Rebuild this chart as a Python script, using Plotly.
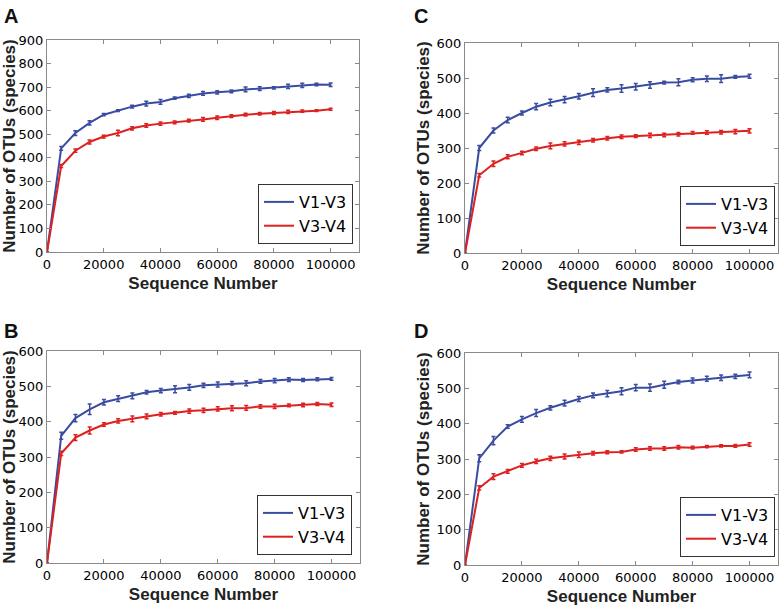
import plotly.graph_objects as go

# rarefaction curves, sampled every 5000 sequences
seq = [0, 5000, 10000, 15000, 20000, 25000, 30000, 35000, 40000, 45000, 50000,
       55000, 60000, 65000, 70000, 75000, 80000, 85000, 90000, 95000, 100000]

# panel A
a_v13 = [0, 440, 505, 548, 583, 600, 617, 630, 637, 653, 663, 673, 678, 682, 690, 694, 697, 703, 707, 711, 710]
a_v13_err = [0, 8, 10, 9, 5, 4, 6, 10, 10, 5, 7, 8, 7, 6, 10, 8, 5, 9, 9, 5, 7]
a_v34 = [0, 365, 430, 467, 490, 505, 525, 537, 545, 550, 558, 563, 570, 577, 583, 587, 590, 595, 598, 600, 606]
a_v34_err = [0, 6, 7, 9, 6, 12, 7, 7, 7, 6, 6, 8, 7, 6, 6, 5, 6, 7, 5, 4, 4]

# panel B
b_v13 = [0, 360, 410, 435, 455, 465, 473, 483, 488, 492, 497, 503, 505, 509, 509, 514, 516, 519, 518, 520, 521]
b_v13_err = [0, 10, 10, 15, 8, 8, 8, 5, 6, 10, 8, 6, 7, 5, 7, 5, 6, 5, 4, 4, 4]
b_v34 = [0, 310, 355, 375, 392, 402, 408, 415, 421, 425, 430, 432, 436, 438, 439, 443, 443, 446, 447, 450, 448]
b_v34_err = [0, 6, 8, 10, 5, 6, 8, 7, 5, 4, 6, 6, 6, 7, 7, 5, 6, 4, 5, 4, 5]

# panel C
c_v13 = [0, 300, 350, 380, 400, 418, 430, 438, 448, 458, 466, 470, 475, 480, 487, 488, 495, 498, 498, 503, 505]
c_v13_err = [0, 7, 7, 8, 6, 9, 9, 9, 8, 11, 6, 11, 9, 9, 4, 10, 6, 8, 11, 4, 6]
c_v34 = [0, 222, 255, 275, 286, 298, 306, 312, 316, 322, 328, 332, 334, 336, 337, 339, 343, 344, 345, 347, 349]
c_v34_err = [0, 5, 8, 6, 5, 5, 8, 6, 6, 5, 5, 5, 4, 6, 5, 5, 4, 5, 5, 6, 6]

# panel D
d_v13 = [0, 302, 352, 392, 412, 430, 445, 458, 470, 480, 485, 492, 502, 502, 510, 518, 522, 527, 530, 534, 538]
d_v13_err = [0, 10, 12, 5, 8, 10, 6, 8, 7, 7, 9, 10, 9, 10, 10, 5, 7, 7, 8, 6, 8]
d_v34 = [0, 218, 250, 265, 282, 293, 302, 307, 312, 316, 319, 320, 327, 330, 330, 333, 332, 335, 337, 337, 341]
d_v34_err = [0, 6, 8, 5, 5, 6, 6, 7, 8, 5, 4, 3, 5, 5, 5, 5, 4, 3, 3, 4, 5]

series_names = ["V1-V3", "V3-V4"]
panel_letters = ["A", "C", "B", "D"]
x_ticks = [0, 20000, 40000, 60000, 80000, 100000]

BLUE = "#3a4ca0"
RED = "#dd2020"

panels = [
    dict(v13=a_v13, e13=a_v13_err, v34=a_v34, e34=a_v34_err, ymax=900,
         xd=[47/779, 359/779], yd=[1-252/607, 1-40/607],
         leg=(353/779, 1-244/607), lab=(2/779, 1-3/607)),
    dict(v13=c_v13, e13=c_v13_err, v34=c_v34, e34=c_v34_err, ymax=600,
         xd=[465/779, 778/779], yd=[1-253/607, 1-43/607],
         leg=(775/779, 1-246/607), lab=(412/779, 1-3/607)),
    dict(v13=b_v13, e13=b_v13_err, v34=b_v34, e34=b_v34_err, ymax=600,
         xd=[47/779, 360/779], yd=[1-563/607, 1-351/607],
         leg=(352/779, 1-555/607), lab=(2/779, 1-318/607)),
    dict(v13=d_v13, e13=d_v13_err, v34=d_v34, e34=d_v34_err, ymax=600,
         xd=[465/779, 778/779], yd=[1-565/607, 1-353/607],
         leg=(775/779, 1-557/607), lab=(412/779, 1-318/607)),
]

fig = go.Figure()
layout = {}
annotations = []

for i, p in enumerate(panels):
    n = i + 1
    sfx = "" if n == 1 else str(n)
    leg = "legend" if n == 1 else f"legend{n}"
    for name, ys, errs, col in [(series_names[0], p["v13"], p["e13"], BLUE),
                                (series_names[1], p["v34"], p["e34"], RED)]:
        fig.add_trace(go.Scatter(
            x=seq, y=ys, name=name, mode="lines",
            line=dict(color=col, width=2),
            error_y=dict(type="data", array=errs, color=col, thickness=1.5, width=2),
            xaxis=f"x{sfx}", yaxis=f"y{sfx}", legend=leg,
        ))

    axis_common = dict(
        showline=True, linecolor="#8a8a8a", linewidth=1, mirror="ticks",
        ticks="inside", ticklen=4, tickcolor="#8a8a8a",
        showgrid=False, zeroline=False, automargin=False,
        tickfont=dict(family="DejaVu Sans", size=13, color="black"),
    )
    layout[f"xaxis{sfx}"] = dict(
        axis_common, domain=p["xd"], anchor=f"y{sfx}", range=[0, 110000],
        tickvals=x_ticks, tickformat="d",
        title=dict(text="<b>Sequence Number</b>", standoff=6,
                   font=dict(family="Liberation Sans", size=17, color="#222")),
    )
    layout[f"yaxis{sfx}"] = dict(
        axis_common, domain=p["yd"], anchor=f"x{sfx}", range=[0, p["ymax"]],
        dtick=100,
        title=dict(text="<b>Number of OTUs (species)</b>", standoff=2,
                   font=dict(family="Liberation Sans", size=17, color="#222")),
    )
    layout[leg] = dict(
        x=p["leg"][0], y=p["leg"][1], xanchor="right", yanchor="bottom",
        xref="paper", yref="paper",
        bordercolor="#333", borderwidth=1, bgcolor="white",
        font=dict(family="DejaVu Sans", size=16, color="black"),
        tracegroupgap=0, itemwidth=30,
    )
    annotations.append(dict(
        text=f"<b>{panel_letters[i]}</b>", x=p["lab"][0], y=p["lab"][1],
        xref="paper", yref="paper", xanchor="left", yanchor="top",
        showarrow=False, font=dict(family="Liberation Sans", size=20, color="#111"),
    ))

fig.update_layout(
    width=779, height=607, margin=dict(l=0, r=0, t=0, b=0, autoexpand=False),
    paper_bgcolor="white", plot_bgcolor="white",
    annotations=annotations, **layout,
)

# page body has a default 8px margin; drop it so the figure fills the window
fig.write_html("out.html", config={"displayModeBar": False},
               post_script="document.body.style.margin='0';")
